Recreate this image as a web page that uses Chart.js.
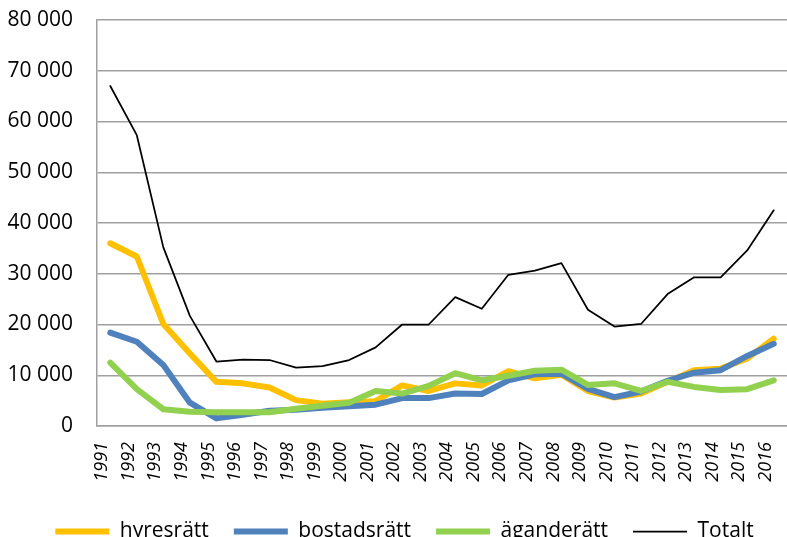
<!DOCTYPE html>
<html>
<head>
<meta charset="utf-8">
<script src="https://cdn.jsdelivr.net/npm/chart.js@4.4.1/dist/chart.umd.min.js"></script>
<style>
  body { margin: 0; background: #fff; }
  #wrap { width: 787px; height: 537px; }
</style>
</head>
<body>
<div id="wrap"><canvas id="bostadChart"></canvas></div>
<script>
const years = ["1991", "1992", "1993", "1994", "1995", "1996", "1997", "1998", "1999", "2000",
  "2001", "2002", "2003", "2004", "2005", "2006", "2007", "2008", "2009", "2010",
  "2011", "2012", "2013", "2014", "2015", "2016"];

const hyresratt = [36000, 33400, 20100, 14300, 8700, 8400, 7600, 5100, 4400, 4700,
  4900, 8000, 6900, 8400, 8000, 10800, 9400, 10100, 6900, 5600,
  6400, 8700, 11000, 11300, 13300, 17200];

const bostadsratt = [18400, 16600, 12000, 4600, 1500, 2200, 3000, 3200, 3600, 3900,
  4200, 5500, 5500, 6400, 6300, 9000, 10200, 10300, 7300, 5700,
  6800, 8900, 10500, 11000, 13800, 16200];

const aganderatt = [12500, 7250, 3300, 2800, 2700, 2700, 2700, 3400, 4000, 4600,
  6900, 6400, 7900, 10400, 9000, 9900, 10900, 11100, 8100, 8400,
  6900, 8700, 7700, 7100, 7250, 9000];

const totalt = [67000, 57300, 35200, 21700, 12700, 13100, 13000, 11500, 11800, 13000,
  15500, 20000, 20000, 25400, 23100, 29800, 30600, 32100, 22900, 19600,
  20100, 26000, 29300, 29300, 34600, 42500];

const gridGray = "#a0a0a0";

function thousands(v) {
  return String(v).replace(/\B(?=(\d{3})+(?!\d))/g, " ");
}

function serie(label, data, color, width, order) {
  return {
    label: label,
    data: data,
    borderColor: color,
    backgroundColor: color,
    borderWidth: width,
    pointRadius: 0,
    tension: 0,
    borderJoinStyle: "round",
    borderCapStyle: "round",
    order: order,
  };
}

// nudge the legend a bit to the right, like the original
const legendShift = {
  id: "legendShift",
  afterLayout(c) {
    c.legend.left += 8;
    c.legend.right += 8;
  },
};

const ctx = document.getElementById("bostadChart");

var chart = new Chart(ctx, {
  type: "line",
  data: {
    labels: years,
    datasets: [
      serie("hyresrätt", hyresratt, "#ffc000", 6, 3),
      serie("bostadsrätt", bostadsratt, "#4f81bd", 6, 2),
      serie("äganderätt", aganderatt, "#92d050", 6, 1),
      serie("Totalt", totalt, "#000000", 1.75, 0),
    ],
  },
  plugins: [legendShift],
  options: {
    responsive: true,
    maintainAspectRatio: false,
    animation: false,
    layout: {
      padding: { left: 0, right: -6, top: 20, bottom: -15 },
    },
    plugins: {
      tooltip: { enabled: false },
      legend: {
        position: "bottom",
        labels: {
          usePointStyle: true,
          pointStyle: "line",
          pointStyleWidth: 54,
          padding: 25,
          color: "#000",
          font: { family: "'Open Sans'", size: 21 },
          sort: (a, b) => a.datasetIndex - b.datasetIndex,
        },
      },
    },
    scales: {
      x: {
        offset: true,
        afterFit: (scale) => {
          scale.height = 70;
          scale.paddingLeft = 0;
          scale.paddingRight = -6;
        },
        grid: { display: false, drawTicks: false },
        border: { display: true, color: gridGray, width: 1.5 },
        ticks: {
          autoSkip: false,
          minRotation: 90,
          maxRotation: 90,
          padding: 16,
          labelOffset: -8,
          color: "#000",
          font: { family: "'Open Sans'", size: 18, style: "italic" },
        },
      },
      y: {
        min: 0,
        max: 80000,
        afterFit: (scale) => {
          scale.width = 97;
          scale.paddingTop = 0;
          scale.paddingBottom = 0;
          scale.paddingRight = -6;
        },
        grid: { color: gridGray, lineWidth: 1.5, drawTicks: false },
        border: { display: true, color: gridGray, width: 1.5 },
        ticks: {
          stepSize: 10000,
          padding: 24,
          color: "#000",
          font: { family: "'Open Sans'", size: 21 },
          callback: (v) => thousands(v),
        },
      },
    },
  },
});
</script>
</body>
</html>
